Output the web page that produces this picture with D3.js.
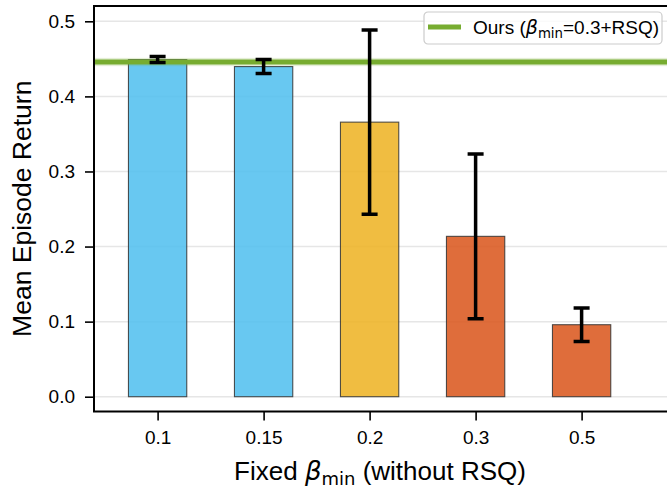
<!DOCTYPE html>
<html>
<head>
<meta charset="utf-8">
<script src="https://cdn.jsdelivr.net/npm/d3@7"></script>
<style>
  html, body { margin: 0; padding: 0; background: #fff; }
  svg { display: block; font-family: "Liberation Sans", Arial, sans-serif; }
</style>
</head>
<body>
<svg id="chart" width="667" height="489"></svg>
<script>
// Fixed beta_min settings (without RSQ)
const categories = ["0.1", "0.15", "0.2", "0.3", "0.5"];
const meanReturn = [0.449, 0.4397, 0.3657, 0.2136, 0.0959];
const stdReturn  = [0.004, 0.0093, 0.1227, 0.1098, 0.0222];
const barColors  = ["#4DBEEE", "#4DBEEE", "#EDB120", "#D95319", "#D95319"];
const yTicks = [0.0, 0.1, 0.2, 0.3, 0.4, 0.5];

// Reference run: beta_min = 0.3 + RSQ
const oursMean = 0.4458;
const oursStd = 0.0055;
const oursColor = "#77AC30";

const plot = { left: 94, right: 668, top: 6, bottom: 411.5 };

const svg = d3.select("#chart");

const x = d3.scaleLinear().domain([-0.6, 4.815]).range([plot.left, plot.right]);
const y = d3.scaleLinear().domain([-0.0197, 0.5204]).range([plot.bottom, plot.top]);
const barW = x(0.55) - x(0);

// clip to plotting area
svg.append("clipPath").attr("id", "plotClip")
  .append("rect")
  .attr("x", plot.left).attr("y", plot.top)
  .attr("width", plot.right - plot.left).attr("height", plot.bottom - plot.top);

const g = svg.append("g").attr("clip-path", "url(#plotClip)");

// horizontal grid
g.selectAll("line.grid").data(yTicks).join("line")
  .attr("class", "grid")
  .attr("x1", plot.left).attr("x2", plot.right)
  .attr("y1", d => y(d)).attr("y2", d => y(d))
  .attr("stroke", "#e6e6e6").attr("stroke-width", 1.5);

// bars
g.selectAll("rect.bar").data(meanReturn).join("rect")
  .attr("class", "bar")
  .attr("x", (d, i) => x(i) - barW / 2)
  .attr("y", d => y(d))
  .attr("width", barW)
  .attr("height", d => y(0) - y(d))
  .attr("fill", (d, i) => barColors[i])
  .attr("fill-opacity", 0.85)
  .attr("stroke", "#333")
  .attr("stroke-opacity", 0.85)
  .attr("stroke-width", 1.1);

// "Ours" band and line
g.append("rect")
  .attr("x", plot.left).attr("width", plot.right - plot.left)
  .attr("y", y(oursMean + oursStd))
  .attr("height", y(oursMean - oursStd) - y(oursMean + oursStd))
  .attr("fill", oursColor).attr("fill-opacity", 0.2);
g.append("line")
  .attr("x1", plot.left).attr("x2", plot.right)
  .attr("y1", y(oursMean)).attr("y2", y(oursMean))
  .attr("stroke", oursColor).attr("stroke-width", 5);

// error bars
const capHalf = 8;
const eb = g.selectAll("g.err").data(meanReturn).join("g").attr("class", "err")
  .attr("stroke", "#000").attr("stroke-width", 3.5);
eb.append("line")
  .attr("x1", (d, i) => x(i)).attr("x2", (d, i) => x(i))
  .attr("y1", (d, i) => y(d + stdReturn[i])).attr("y2", (d, i) => y(d - stdReturn[i]));
eb.append("line")
  .attr("x1", (d, i) => x(i) - capHalf).attr("x2", (d, i) => x(i) + capHalf)
  .attr("y1", (d, i) => y(d + stdReturn[i])).attr("y2", (d, i) => y(d + stdReturn[i]));
eb.append("line")
  .attr("x1", (d, i) => x(i) - capHalf).attr("x2", (d, i) => x(i) + capHalf)
  .attr("y1", (d, i) => y(d - stdReturn[i])).attr("y2", (d, i) => y(d - stdReturn[i]));

// axes
const yAxis = d3.axisLeft(y).tickValues(yTicks).tickFormat(d3.format(".1f")).tickSize(9).tickPadding(10);
const xAxis = d3.axisBottom(x).tickValues(d3.range(categories.length))
  .tickFormat(i => categories[i]).tickSize(9).tickPadding(10);

const ya = svg.append("g").attr("transform", `translate(${plot.left},0)`).call(yAxis);
const xa = svg.append("g").attr("transform", `translate(0,${plot.bottom})`).call(xAxis);
[ya, xa].forEach(a => {
  a.select(".domain").remove();
  a.selectAll(".tick line").attr("stroke", "#000").attr("stroke-width", 1.6);
  a.selectAll(".tick text").attr("fill", "#000").attr("font-size", 19)
    .attr("font-family", "'Liberation Sans', Arial, sans-serif");
});

// spines
svg.append("rect")
  .attr("x", plot.left).attr("y", plot.top)
  .attr("width", plot.right - plot.left).attr("height", plot.bottom - plot.top)
  .attr("fill", "none").attr("stroke", "#000").attr("stroke-width", 2);

// axis labels
svg.append("text")
  .attr("transform", `translate(31,${(plot.top + plot.bottom) / 2}) rotate(-90)`)
  .attr("text-anchor", "middle")
  .attr("font-size", 26.5)
  .text("Mean Episode Return");

const xl = svg.append("text")
  .attr("x", 380).attr("y", 479.5)
  .attr("text-anchor", "middle")
  .attr("font-size", 26);
xl.append("tspan").text("Fixed ");
xl.append("tspan").attr("font-family", "'DejaVu Sans', sans-serif").attr("font-style", "italic").text("β");
xl.append("tspan").attr("font-family", "'DejaVu Sans', sans-serif").attr("font-size", 18).attr("dy", 5).text("min");
xl.append("tspan").attr("dy", -5).text(" (without RSQ)");

// legend
const lg = svg.append("g").attr("transform", "translate(424,12)");
lg.append("rect")
  .attr("width", 238).attr("height", 32).attr("rx", 4)
  .attr("fill", "#fff").attr("fill-opacity", 0.8)
  .attr("stroke", "#cccccc").attr("stroke-width", 1.2);
lg.append("line")
  .attr("x1", 4).attr("x2", 37).attr("y1", 15).attr("y2", 15)
  .attr("stroke", oursColor).attr("stroke-width", 5);
const lt = lg.append("text").attr("x", 49).attr("y", 21.5).attr("font-size", 19);
lt.append("tspan").text("Ours (");
lt.append("tspan").attr("font-family", "'DejaVu Sans', sans-serif").attr("font-style", "italic").text("β");
lt.append("tspan").attr("font-family", "'DejaVu Sans', sans-serif").attr("font-size", 13.3).attr("dy", 4).text("min");
lt.append("tspan").attr("dy", -4).text("=0.3+RSQ)");
</script>
</body>
</html>
